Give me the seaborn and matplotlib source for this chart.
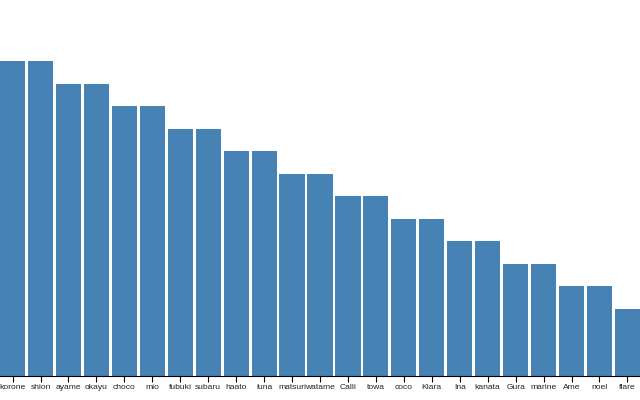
import numpy as np
import pandas as pd
import seaborn as sns
import matplotlib
matplotlib.use("Agg")
import matplotlib.pyplot as plt

# data
names = ["korone", "shion", "ayame", "okayu", "choco", "mio", "fubuki",
         "subaru", "haato", "luna", "matsuri", "watame", "Calli", "towa",
         "coco", "Kiara", "Ina", "kanata", "Gura", "marine", "Ame", "noel",
         "flare"]
counts = [14, 14, 13, 13, 12, 12, 11, 11, 10, 10, 9, 9, 8, 8, 7, 7, 6, 6,
          5, 5, 4, 4, 3]

df = pd.DataFrame({"name": names, "count": counts})

sns.set_style("white")
plt.rcParams['font.family'] = ['Liberation Sans', 'DejaVu Sans']

fig = plt.figure(figsize=(6.4, 4.0), dpi=100)
ax = fig.add_axes([0, 24 / 400, 1, 376 / 400])

sns.barplot(data=df, x="name", y="count", color="steelblue",
            saturation=1, width=0.9, edgecolor="none", ax=ax)

ax.set_xlim(-0.45, len(names) - 0.55)
ax.set_ylim(0, 14 * 376 / 315)

for s in ["top", "right", "left"]:
    ax.spines[s].set_visible(False)
ax.spines["bottom"].set_color("black")
ax.spines["bottom"].set_linewidth(0.8)
ax.set_yticks([])
ax.set_xlabel("")
ax.set_ylabel("")
ax.tick_params(axis="x", length=4, width=0.8, color="black", pad=2,
               labelsize=6.1, labelcolor="#222222", bottom=True)

fig.savefig("out.png", dpi=100)
